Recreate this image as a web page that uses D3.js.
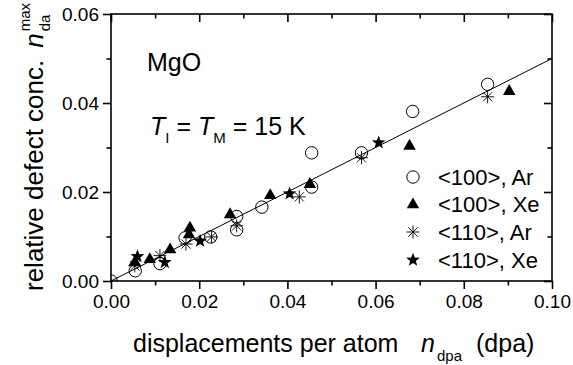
<!DOCTYPE html>
<html>
<head>
<meta charset="utf-8">
<script src="https://cdn.jsdelivr.net/npm/d3@7"></script>
<style>
  html, body { margin: 0; padding: 0; background: #fff; }
  svg { display: block; font-family: "Liberation Sans", Arial, sans-serif; }
</style>
</head>
<body>
<svg id="chart" width="573" height="365"></svg>
<script>
// Displacements per atom (dpa) vs. maximum relative defect concentration
const ar100X = [0.0000, 0.0055, 0.0111, 0.0168, 0.0226, 0.0285, 0.0285, 0.0342, 0.0455, 0.0455, 0.0568, 0.0684, 0.0854];
const ar100Y = [0.0000, 0.0023, 0.0039, 0.0097, 0.0099, 0.0145, 0.0115, 0.0166, 0.0211, 0.0288, 0.0288, 0.0381, 0.0442];

const xe100X = [0.0054, 0.0088, 0.0134, 0.0179, 0.0177, 0.0270, 0.0361, 0.0451, 0.0677, 0.0903];
const xe100Y = [0.0044, 0.0050, 0.0072, 0.0121, 0.0106, 0.0151, 0.0194, 0.0219, 0.0305, 0.0428];

const ar110X = [0.0054, 0.0111, 0.0170, 0.0228, 0.0285, 0.0427, 0.0568, 0.0854];
const ar110Y = [0.0034, 0.0057, 0.0083, 0.0099, 0.0124, 0.0189, 0.0277, 0.0414];

const xe110X = [0.0060, 0.0122, 0.0202, 0.0405, 0.0607];
const xe110Y = [0.0055, 0.0042, 0.0090, 0.0196, 0.0311];

// Linear fit end points
const fitX = [0.0, 0.1];
const fitY = [0.0, 0.05];

const xTicks = [0.00, 0.02, 0.04, 0.06, 0.08, 0.10];
const yTicks = [0.00, 0.02, 0.04, 0.06];
const xMinor = [0.01, 0.03, 0.05, 0.07, 0.09];
const yMinor = [0.01, 0.03, 0.05];

const legendLabels = ["<100>, Ar", "<100>, Xe", "<110>, Ar", "<110>, Xe"];

const svg = d3.select("#chart");
const plot = { left: 111, right: 552, top: 14, bottom: 281 };

const x = d3.scaleLinear().domain([0, 0.1]).range([plot.left, plot.right]);
const y = d3.scaleLinear().domain([0, 0.06]).range([plot.bottom, plot.top]);

// Marker shapes
function trianglePath(s) {
  const h = s * 0.87;
  return `M0,${-h * 0.6}L${s / 2},${h * 0.4}L${-s / 2},${h * 0.4}Z`;
}
function starPath(ro, ri) {
  let p = "";
  for (let i = 0; i < 10; i++) {
    const r = i % 2 === 0 ? ro : ri;
    const a = -Math.PI / 2 + i * Math.PI / 5;
    p += (i === 0 ? "M" : "L") + (r * Math.cos(a)).toFixed(2) + "," + (r * Math.sin(a)).toFixed(2);
  }
  return p + "Z";
}
function asteriskPath(r) {
  const d = r * Math.SQRT1_2;
  return `M${-r},0L${r},0M0,${-r}L0,${r}M${-d},${-d}L${d},${d}M${-d},${d}L${d},${-d}`;
}

const markers = [
  g => g.append("circle").attr("r", 6.2).attr("fill", "none").attr("stroke", "#000").attr("stroke-width", 1),
  g => g.append("path").attr("d", trianglePath(12.5)).attr("fill", "#000"),
  g => g.append("path").attr("d", asteriskPath(6.5)).attr("fill", "none").attr("stroke", "#000").attr("stroke-width", 0.9),
  g => g.append("path").attr("d", starPath(7.2, 3)).attr("fill", "#000")
];

svg.append("defs").append("clipPath").attr("id", "plotClip")
  .append("rect")
  .attr("x", plot.left).attr("y", plot.top)
  .attr("width", plot.right - plot.left).attr("height", plot.bottom - plot.top);

// Fit line
svg.append("line")
  .attr("x1", x(fitX[0])).attr("y1", y(fitY[0]))
  .attr("x2", x(fitX[1])).attr("y2", y(fitY[1]))
  .attr("stroke", "#000").attr("stroke-width", 1);

// Data points
const series = [
  [ar100X, ar100Y],
  [xe100X, xe100Y],
  [ar110X, ar110Y],
  [xe110X, xe110Y]
];
const pts = svg.append("g").attr("clip-path", "url(#plotClip)");
series.forEach(([xs, ys], si) => {
  xs.forEach((xv, i) => {
    const g = pts.append("g").attr("transform", `translate(${x(xv)},${y(ys[i])})`);
    markers[si](g);
  });
});

// Axes
const axisW = 1.6;
const majorLen = 8, minorLen = 4.5;

function styleTicks(g, withLabels) {
  g.select(".domain").remove();
  g.selectAll(".tick line").attr("stroke", "#000").attr("stroke-width", axisW);
  if (withLabels) {
    g.selectAll(".tick text").attr("fill", "#000").style("font-size", "19px")
      .style("font-family", '"Liberation Sans", Arial, sans-serif');
  } else {
    g.selectAll(".tick text").remove();
  }
}

function addAxis(gen, transform, withLabels) {
  svg.append("g").attr("transform", transform).call(gen).call(g => styleTicks(g, withLabels));
}

// Bottom (outward)
addAxis(d3.axisBottom(x).tickValues(xTicks).tickFormat(d3.format(".2f")).tickSize(majorLen).tickPadding(6),
  `translate(0,${plot.bottom})`, true);
addAxis(d3.axisBottom(x).tickValues(xMinor).tickSize(minorLen).tickFormat(""),
  `translate(0,${plot.bottom})`, false);

// Top (inward)
addAxis(d3.axisBottom(x).tickValues(xTicks).tickSize(majorLen).tickFormat(""),
  `translate(0,${plot.top})`, false);
addAxis(d3.axisBottom(x).tickValues(xMinor).tickSize(minorLen).tickFormat(""),
  `translate(0,${plot.top})`, false);

// Left (outward)
addAxis(d3.axisLeft(y).tickValues(yTicks).tickFormat(d3.format(".2f")).tickSize(majorLen).tickPadding(4),
  `translate(${plot.left},0)`, true);
addAxis(d3.axisLeft(y).tickValues(yMinor).tickSize(minorLen).tickFormat(""),
  `translate(${plot.left},0)`, false);

// Right (inward)
addAxis(d3.axisLeft(y).tickValues(yTicks).tickSize(majorLen).tickFormat(""),
  `translate(${plot.right},0)`, false);
addAxis(d3.axisLeft(y).tickValues(yMinor).tickSize(minorLen).tickFormat(""),
  `translate(${plot.right},0)`, false);

// Frame
svg.append("rect")
  .attr("x", plot.left).attr("y", plot.top)
  .attr("width", plot.right - plot.left).attr("height", plot.bottom - plot.top)
  .attr("fill", "none").attr("stroke", "#000").attr("stroke-width", axisW);

// X axis title
svg.append("text").attr("x", 133).attr("y", 352).style("font-size", "25px")
  .text("displacements per atom");
svg.append("text").attr("x", 421).attr("y", 352).style("font-size", "25px")
  .style("font-style", "italic").text("n");
svg.append("text").attr("x", 437).attr("y", 361).style("font-size", "15px").text("dpa");
svg.append("text").attr("x", 476).attr("y", 352).style("font-size", "25px").text("(dpa)");

// Y axis title
const yt = svg.append("g").attr("transform", "translate(43,291) rotate(-90)");
const ytMain = yt.append("text").attr("x", 0).attr("y", 0).style("font-size", "26px")
  .text("relative defect conc.");
const mainLen = ytMain.node().getComputedTextLength();
const nX = mainLen + 12;
const nT = yt.append("text").attr("x", nX).attr("y", 0).style("font-size", "26px")
  .style("font-style", "italic").text("n");
const nLen = nT.node().getComputedTextLength();
yt.append("text").attr("x", nX + nLen + 2).attr("y", 7).style("font-size", "15px").text("da");
yt.append("text").attr("x", nX + nLen + 2).attr("y", -13).style("font-size", "15px").text("max");

// Annotations
svg.append("text").attr("x", 147).attr("y", 71).style("font-size", "25px").text("MgO");
const tt = svg.append("text").attr("x", 150).attr("y", 135).style("font-size", "25px");
tt.append("tspan").style("font-style", "italic").text("T");
tt.append("tspan").attr("dy", 8).style("font-size", "15px").text("I");
tt.append("tspan").attr("dy", -8).text(" = ");
tt.append("tspan").style("font-style", "italic").text("T");
tt.append("tspan").attr("dy", 8).style("font-size", "15px").text("M");
tt.append("tspan").attr("dy", -8).text(" = 15 K");

// Legend
const legendRows = [177, 204, 232, 260];
legendLabels.forEach((lab, i) => {
  const g = svg.append("g").attr("transform", `translate(413,${legendRows[i]})`);
  markers[i](g);
  svg.append("text").attr("x", 438).attr("y", legendRows[i] + 8)
    .style("font-size", "22px").text(lab);
});
</script>
</body>
</html>
